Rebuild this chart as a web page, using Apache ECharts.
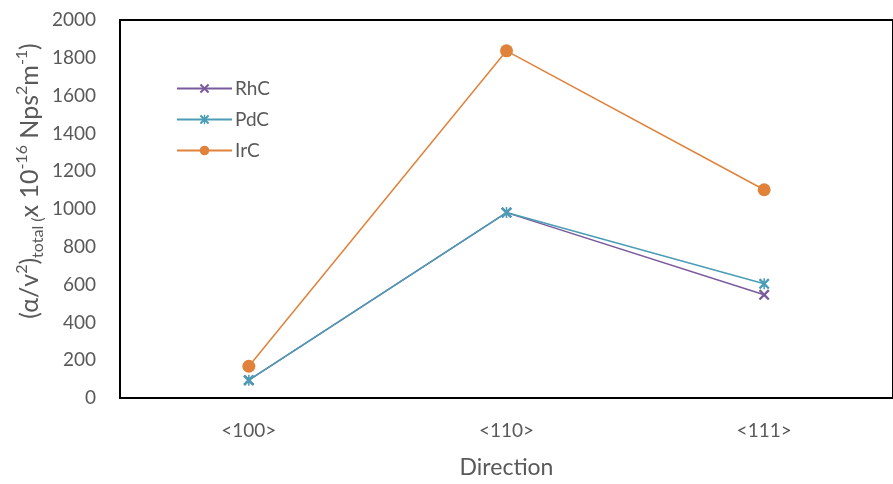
<!DOCTYPE html>
<html><head><meta charset="utf-8">
<script src="https://cdn.jsdelivr.net/npm/echarts@6/dist/echarts.min.js"></script>
<style>html,body{margin:0;padding:0;background:#fff}#c{width:893px;height:484px}</style>
</head><body><div id="c"></div>
<script>
var categories = ['<100>', '<110>', '<111>'];
var seriesNames = ['RhC', 'PdC', 'IrC'];
var rhc = [94, 981, 546];
var pdc = [94, 981, 604];
var irc = [168, 1837, 1102];
var yTicks = {min: 0, max: 2000, interval: 200};

var FONT = 'Lato';
var GREY = '#595959';
var xPath = 'path://M0,1.5 L1.5,0 L5,3.5 L8.5,0 L10,1.5 L6.5,5 L10,8.5 L8.5,10 L5,6.5 L1.5,10 L0,8.5 L3.5,5 Z';
var starPath = 'path://M0,1.5 L1.5,0 L5,3.5 L8.5,0 L10,1.5 L6.5,5 L10,8.5 L8.5,10 L5,6.5 L1.5,10 L0,8.5 L3.5,5 Z M4.3,0 L5.7,0 L5.7,10 L4.3,10 Z';

var chart = echarts.init(document.getElementById('c'));
chart.setOption({
  animation: false,
  backgroundColor: '#fff',
  grid: {left: 120, top: 20, height: 381, width: 786, show: true, borderColor: '#000', borderWidth: 2},
  legend: {
    data: seriesNames, orient: 'vertical', left: 171, top: 74,
    itemWidth: 55, itemHeight: 12, itemGap: 12,
    textStyle: {fontFamily: FONT, fontSize: 19, color: GREY, padding: [0,0,0,-2]}
  },
  graphic: [{
    type: 'text', x: 30, y: 181, rotation: Math.PI / 2,
    style: {
      text: '(α/v{sup|2}){sub|total (}x 10{sup|-16} Nps{sup|2}m{sup|-1})',
      font: '25px Lato', fill: GREY, align: 'center', verticalAlign: 'middle', lineHeight: 32,
      rich: {
        sup: {fontFamily: FONT, fontSize: 16, fill: GREY, verticalAlign: 'top', lineHeight: 16},
        sub: {fontFamily: FONT, fontSize: 16, fill: GREY, verticalAlign: 'bottom', lineHeight: 16}
      }
    }
  }],
  xAxis: {
    type: 'category', data: categories, boundaryGap: true,
    axisLine: {lineStyle: {color: '#000', width: 2}},
    axisTick: {show: false},
    axisLabel: {fontFamily: FONT, fontSize: 19, color: GREY, margin: 23},
    name: 'Direction', nameLocation: 'middle', nameGap: 58,
    nameTextStyle: {fontFamily: FONT, fontSize: 23, color: GREY}
  },
  yAxis: {
    type: 'value', min: yTicks.min, max: yTicks.max, interval: yTicks.interval,
    splitLine: {show: false},
    axisLine: {show: true, lineStyle: {color: '#000', width: 2}},
    axisTick: {show: false},
    axisLabel: {fontFamily: FONT, fontSize: 19, color: GREY, margin: 24, formatter: function (v) { return String(v); }}
  },
  series: [
    {name: 'IrC', type: 'line', data: irc, symbol: 'circle', symbolSize: 13,
     lineStyle: {color: '#E0823A', width: 1.5}, itemStyle: {color: '#E0823A'}, z: 2},
    {name: 'RhC', type: 'line', data: rhc, symbol: xPath, symbolSize: 11,
     lineStyle: {color: '#7B5A9C', width: 1.5}, itemStyle: {color: '#7B5A9C'}, z: 3},
    {name: 'PdC', type: 'line', data: pdc, symbol: starPath, symbolSize: 11,
     lineStyle: {color: '#4A9DB5', width: 1.5}, itemStyle: {color: '#4A9DB5'}, z: 4}
  ]
});
</script></body></html>
